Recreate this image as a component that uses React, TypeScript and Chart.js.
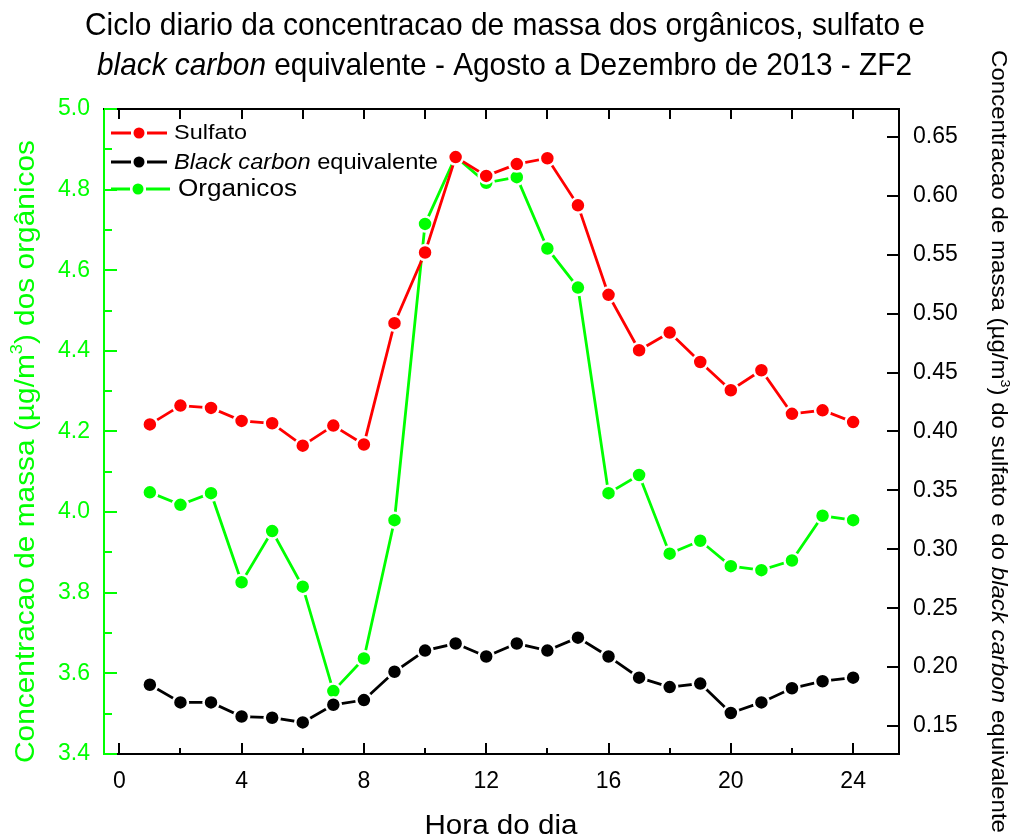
import React, { useEffect, useRef } from "react";
import { Chart, registerables } from "chart.js";

Chart.register(...registerables);

// ---------------- DATA ----------------
const hours = [1, 2, 3, 4, 5, 6, 7, 8, 9, 10, 11, 12, 13, 14, 15, 16, 17, 18, 19, 20, 21, 22, 23, 24];

const sulfato = [
  0.406, 0.422, 0.420, 0.409, 0.407, 0.388, 0.405, 0.389, 0.492, 0.552, 0.633, 0.617,
  0.627, 0.632, 0.592, 0.516, 0.469, 0.484, 0.459, 0.435, 0.452, 0.415, 0.418, 0.408,
];

const blackCarbon = [
  0.185, 0.170, 0.170, 0.158, 0.157, 0.153, 0.168, 0.172, 0.196, 0.214, 0.220, 0.209,
  0.220, 0.214, 0.225, 0.209, 0.191, 0.183, 0.186, 0.161, 0.170, 0.182, 0.188, 0.191,
];

const organicos = [
  4.049, 4.018, 4.047, 3.826, 3.953, 3.815, 3.556, 3.637, 3.980, 4.715, 4.882, 4.817,
  4.831, 4.654, 4.557, 4.047, 4.092, 3.897, 3.929, 3.866, 3.856, 3.880, 3.991, 3.980,
];

const xTicks = [0, 4, 8, 12, 16, 20, 24];
const xMinorTicks = [2, 6, 10, 14, 18, 22];
const xTopTicks = [0, 2, 4, 6, 8, 10, 12, 14, 16, 18, 20, 22, 24];
const leftTicks = [3.4, 3.6, 3.8, 4.0, 4.2, 4.4, 4.6, 4.8, 5.0];
const leftMinorTicks = [3.5, 3.7, 3.9, 4.1, 4.3, 4.5, 4.7, 4.9];
const rightTicks = [0.15, 0.2, 0.25, 0.3, 0.35, 0.4, 0.45, 0.5, 0.55, 0.6, 0.65];

const seriesLabels = ["Sulfato", "Black carbon equivalente", "Organicos"];
const titleLine1 = "Ciclo diario da concentracao de massa dos orgânicos, sulfato e";
const titleLine2Italic = "black carbon";
const titleLine2Rest = " equivalente - Agosto a Dezembro de 2013 - ZF2";
const xTitle = "Hora do dia";
const leftTitleA = "Concentracao de massa (µg/m";
const leftTitleB = ") dos orgânicos";
const rightTitleA = "Concentracao de massa (µg/m";
const rightTitleB = ") do sulfato e do ";
const rightTitleItalic = "black carbon";
const rightTitleC = " equivalente";

const RED = "#ff0000";
const GREEN = "#00ff00";
const BLACK = "#000000";
const FAMILY = "'Liberation Sans', Arial, Helvetica, sans-serif";

type Seg = { text: string; size: number; italic?: boolean; dy?: number; color?: string };

function drawRich(
  ctx: CanvasRenderingContext2D,
  segs: Seg[],
  x: number,
  y: number,
  align: "left" | "center",
  color: string,
  targetWidth?: number
) {
  const fontOf = (s: Seg) => `${s.italic ? "italic " : ""}${s.size}px ${FAMILY}`;
  let w = 0;
  const widths: number[] = [];
  for (const s of segs) {
    ctx.font = fontOf(s);
    const m = ctx.measureText(s.text).width;
    widths.push(m);
    w += m;
  }
  const sx = targetWidth ? targetWidth / w : 1;
  ctx.save();
  ctx.translate(x, y);
  ctx.scale(sx, 1);
  ctx.textAlign = "left";
  ctx.textBaseline = "alphabetic";
  let cx = align === "center" ? -w / 2 : 0;
  segs.forEach((s, i) => {
    ctx.font = fontOf(s);
    ctx.fillStyle = s.color || color;
    ctx.fillText(s.text, cx, s.dy || 0);
    cx += widths[i];
  });
  ctx.restore();
}

const decorPlugin = {
  id: "decor",
  afterDraw(chart: any) {
    const ctx: CanvasRenderingContext2D = chart.ctx;
    const { left, right, top, bottom } = chart.chartArea;
    const sx = chart.scales.x;
    const sy = chart.scales.y;
    const sy1 = chart.scales.y1;
    ctx.save();
    ctx.lineWidth = 2;
    ctx.lineCap = "butt";

    // top frame line
    ctx.strokeStyle = BLACK;
    ctx.beginPath();
    ctx.moveTo(left - 1, top);
    ctx.lineTo(right + 1, top);
    ctx.stroke();

    const vtick = (px: number, y0: number, y1: number, c: string) => {
      ctx.strokeStyle = c;
      ctx.beginPath();
      ctx.moveTo(px, y0);
      ctx.lineTo(px, y1);
      ctx.stroke();
    };
    const htick = (py: number, x0: number, x1: number, c: string) => {
      ctx.strokeStyle = c;
      ctx.beginPath();
      ctx.moveTo(x0, py);
      ctx.lineTo(x1, py);
      ctx.stroke();
    };

    xTicks.forEach((v) => {
      const px = Math.round(sx.getPixelForValue(v));
      vtick(px, bottom, bottom - 11, BLACK);
    });
    xMinorTicks.forEach((v) => {
      const px = Math.round(sx.getPixelForValue(v));
      vtick(px, bottom, bottom - 6, BLACK);
    });
    xTopTicks.forEach((v) => {
      const px = Math.round(sx.getPixelForValue(v));
      vtick(px, top, top + 10, BLACK);
    });
    leftTicks.forEach((v) => {
      const py = Math.round(sy.getPixelForValue(v));
      htick(py, left, left + 13, GREEN);
    });
    leftMinorTicks.forEach((v) => {
      const py = Math.round(sy.getPixelForValue(v));
      htick(py, left, left + 8, GREEN);
    });
    rightTicks.forEach((v) => {
      const py = Math.round(sy1.getPixelForValue(v));
      htick(py, right, right - 12, BLACK);
    });

    // legend
    const legendItems = [
      { color: RED, y: 133, x0: 111, x1: 167, mx: 139 },
      { color: BLACK, y: 162, x0: 111, x1: 167, mx: 139 },
      { color: GREEN, y: 189, x0: 111, x1: 170, mx: 138 },
    ];
    legendItems.forEach((it) => {
      ctx.strokeStyle = it.color;
      ctx.lineWidth = 2.8;
      ctx.beginPath();
      ctx.moveTo(it.x0, it.y);
      ctx.lineTo(it.mx - 8, it.y);
      ctx.moveTo(it.mx + 8, it.y);
      ctx.lineTo(it.x1, it.y);
      ctx.stroke();
      ctx.fillStyle = it.color;
      ctx.beginPath();
      ctx.arc(it.mx, it.y, 5.5, 0, Math.PI * 2);
      ctx.fill();
    });
    drawRich(ctx, [{ text: seriesLabels[0], size: 21 }], 174, 139, "left", BLACK, 73);
    drawRich(
      ctx,
      [
        { text: "Black carbon", size: 22, italic: true },
        { text: " equivalente", size: 22 },
      ],
      174,
      169,
      "left",
      BLACK,
      264
    );
    drawRich(ctx, [{ text: seriesLabels[2], size: 23 }], 178, 196, "left", BLACK, 119);

    // title
    drawRich(ctx, [{ text: titleLine1, size: 32 }], 505, 35, "center", BLACK, 840);
    drawRich(
      ctx,
      [
        { text: titleLine2Italic, size: 32, italic: true },
        { text: titleLine2Rest, size: 32 },
      ],
      504.5,
      75,
      "center",
      BLACK,
      815
    );

    // x title
    drawRich(ctx, [{ text: xTitle, size: 27 }], 501, 834, "center", BLACK, 153);

    // left title
    ctx.save();
    ctx.translate(34, 451.5);
    ctx.rotate(-Math.PI / 2);
    drawRich(
      ctx,
      [
        { text: leftTitleA, size: 28 },
        { text: "3", size: 17, dy: -12 },
        { text: leftTitleB, size: 28 },
      ],
      0,
      0,
      "center",
      GREEN,
      623
    );
    ctx.restore();

    // right title
    ctx.save();
    ctx.translate(992, 441.5);
    ctx.rotate(Math.PI / 2);
    drawRich(
      ctx,
      [
        { text: rightTitleA, size: 22 },
        { text: "3", size: 13, dy: -9 },
        { text: rightTitleB, size: 22 },
        { text: rightTitleItalic, size: 22, italic: true },
        { text: rightTitleC, size: 22 },
      ],
      0,
      0,
      "center",
      BLACK,
      783
    );
    ctx.restore();

    ctx.restore();
  },
};

export default function App() {
  const canvasRef = useRef<HTMLCanvasElement | null>(null);

  useEffect(() => {
    if (!canvasRef.current) return;
    const mk = (vals: number[]) => hours.map((h, i) => ({ x: h, y: vals[i] }));
    const common = {
      borderWidth: 2.8,
      pointRadius: 7.5,
      pointHoverRadius: 7.5,
      pointBorderWidth: 2.5,
      pointBorderColor: "#ffffff",
      tension: 0,
      fill: false,
    };
    const tickFont = { family: FAMILY, size: 23 };
    const chart = new Chart(canvasRef.current, {
      type: "line",
      data: {
        datasets: [
          {
            ...common,
            label: seriesLabels[0],
            data: mk(sulfato),
            yAxisID: "y1",
            borderColor: RED,
            backgroundColor: RED,
            pointBackgroundColor: RED,
          },
          {
            ...common,
            label: seriesLabels[1],
            data: mk(blackCarbon),
            yAxisID: "y1",
            borderColor: BLACK,
            backgroundColor: BLACK,
            pointBackgroundColor: BLACK,
          },
          {
            ...common,
            label: seriesLabels[2],
            data: mk(organicos),
            yAxisID: "y",
            borderColor: GREEN,
            backgroundColor: GREEN,
            pointBackgroundColor: GREEN,
          },
        ],
      } as any,
      options: {
        responsive: false,
        animation: false,
        devicePixelRatio: 1,
        layout: { padding: { top: 109, left: 0, right: 0, bottom: 0 } },
        plugins: {
          legend: { display: false },
          title: { display: false },
          tooltip: { enabled: false },
        },
        events: [],
        scales: {
          x: {
            type: "linear",
            position: "bottom",
            min: -0.5,
            max: 25.5,
            afterBuildTicks: (s: any) => {
              s.ticks = xTicks.map((v) => ({ value: v }));
            },
            afterFit: (s: any) => {
              s.height = 86;
            },
            ticks: {
              color: BLACK,
              font: tickFont,
              padding: 14,
              maxRotation: 0,
              autoSkip: false,
              callback: (v: any) => String(v),
            },
            grid: { display: false, drawTicks: false },
            border: { display: true, color: BLACK, width: 2 },
          },
          y: {
            type: "linear",
            position: "left",
            min: 3.4,
            max: 5.0,
            afterBuildTicks: (s: any) => {
              s.ticks = leftTicks.map((v) => ({ value: v }));
            },
            afterFit: (s: any) => {
              s.width = 104;
            },
            ticks: {
              color: GREEN,
              font: tickFont,
              padding: 14,
              autoSkip: false,
              callback: (v: any) => Number(v).toFixed(1),
            },
            grid: { display: false, drawTicks: false },
            border: { display: true, color: GREEN, width: 2 },
          },
          y1: {
            type: "linear",
            position: "right",
            min: 0.1262,
            max: 0.6738,
            afterBuildTicks: (s: any) => {
              s.ticks = rightTicks.map((v) => ({ value: v }));
            },
            afterFit: (s: any) => {
              s.width = 115;
            },
            ticks: {
              color: BLACK,
              font: tickFont,
              padding: 14,
              autoSkip: false,
              callback: (v: any) => Number(v).toFixed(2),
            },
            grid: { display: false, drawTicks: false },
            border: { display: true, color: BLACK, width: 2 },
          },
        },
      } as any,
      plugins: [decorPlugin],
    });
    return () => chart.destroy();
  }, []);

  return (
    <div style={{ position: "absolute", left: 0, top: 0, width: 1014, height: 840, background: "#fff" }}>
      <canvas ref={canvasRef} width={1014} height={840} style={{ display: "block" }} />
    </div>
  );
}
